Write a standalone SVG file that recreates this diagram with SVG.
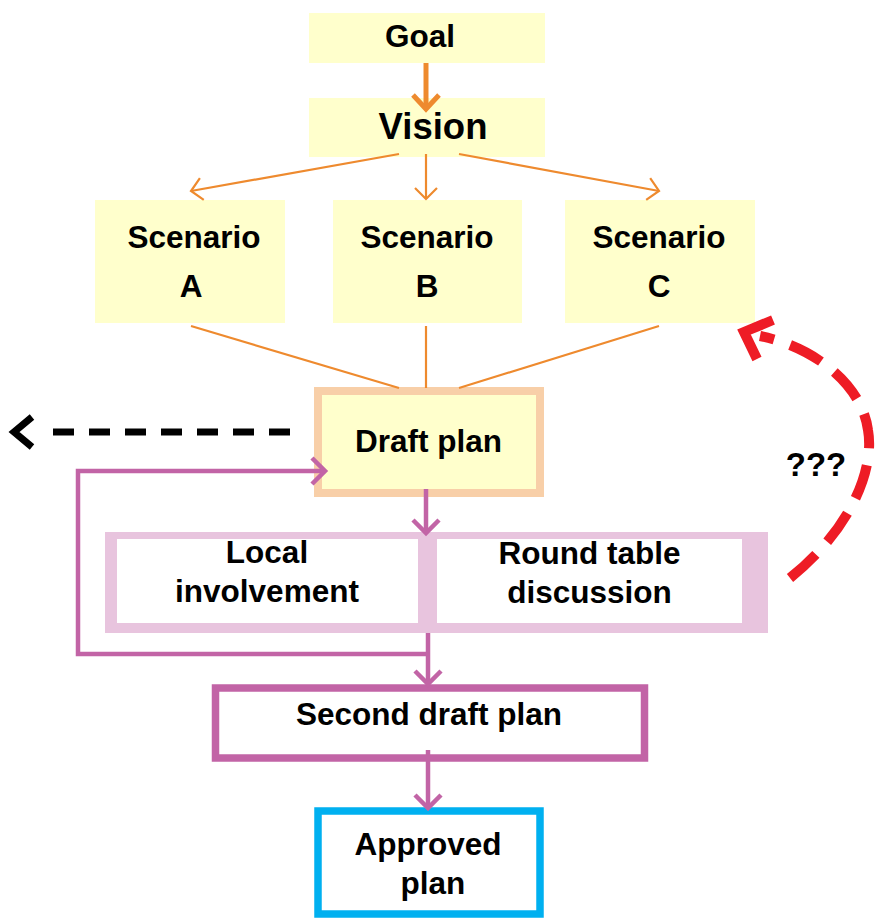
<svg xmlns="http://www.w3.org/2000/svg" width="875" height="919" viewBox="0 0 875 919">
  <style>
    text { font-family: "Liberation Sans", Arial, sans-serif; font-weight: bold; fill: #000; text-anchor: middle; }
    .lbl { font-size: 31.5px; }
    .big { font-size: 36.5px; }
    .q { font-size: 33px; }
    .yellow { fill: #FFFFCC; }
    .orange { stroke: #EE8A2E; fill: none; }
    .purple { stroke: #C264A6; fill: none; stroke-width: 4.5; }
    .chev { fill: none; stroke-linejoin: miter; stroke-linecap: butt; }
  </style>
  <defs>
    <marker id="arrOrange" markerUnits="userSpaceOnUse" viewBox="-20 -20 40 40" refX="0" refY="0" markerWidth="40" markerHeight="40" orient="auto" overflow="visible">
      <path d="M -11,-11 L 0,0 L -11,11" fill="none" stroke="#EE8A2E" stroke-width="2.2"/>
    </marker>
    <marker id="arrOrangeBold" markerUnits="userSpaceOnUse" viewBox="-20 -20 40 40" refX="0" refY="0" markerWidth="40" markerHeight="40" orient="auto" overflow="visible">
      <path d="M -14,-13 L 0,0 L -14,13" fill="none" stroke="#EE8A2E" stroke-width="5"/>
    </marker>
    <marker id="arrPurple" markerUnits="userSpaceOnUse" viewBox="-20 -20 40 40" refX="0" refY="0" markerWidth="40" markerHeight="40" orient="auto" overflow="visible">
      <path d="M -13,-13 L 0,0 L -13,13" fill="none" stroke="#C264A6" stroke-width="4.5"/>
    </marker>
  </defs>

  <rect width="875" height="919" fill="#fff"/>

  <g id="goal">
    <rect class="yellow" x="309" y="13" width="236" height="50"/>
    <text class="lbl" x="420" y="47">Goal</text>
  </g>

  <g id="vision">
    <rect class="yellow" x="309" y="98" width="236" height="59"/>
    <text class="big" x="433" y="139">Vision</text>
  </g>

  <g id="scenario-a">
    <rect class="yellow" x="95" y="200" width="190" height="123"/>
    <text class="lbl" x="194" y="248">Scenario</text>
    <text class="lbl" x="191" y="297">A</text>
  </g>

  <g id="scenario-b">
    <rect class="yellow" x="333" y="200" width="189" height="123"/>
    <text class="lbl" x="427" y="248">Scenario</text>
    <text class="lbl" x="427" y="297">B</text>
  </g>

  <g id="scenario-c">
    <rect class="yellow" x="565" y="200" width="190" height="123"/>
    <text class="lbl" x="659" y="248">Scenario</text>
    <text class="lbl" x="659" y="297">C</text>
  </g>

  <g id="draft-plan">
    <rect class="yellow" x="318" y="391" width="222" height="102" stroke="#F8CFA8" stroke-width="8"/>
    <text class="lbl" x="428.5" y="452">Draft plan</text>
  </g>

  <g id="consultation">
    <rect x="105" y="532" width="663" height="101" fill="#E8C4DE"/>
  </g>

  <g id="local-involvement">
    <rect x="117" y="539" width="301" height="84" fill="#fff"/>
    <text class="lbl" x="267" y="563">Local</text>
    <text class="lbl" x="267" y="602">involvement</text>
  </g>

  <g id="round-table">
    <rect x="437" y="539" width="305" height="84" fill="#fff"/>
    <text class="lbl" x="589.5" y="564">Round table</text>
    <text class="lbl" x="589.5" y="603">discussion</text>
  </g>

  <g id="second-draft-plan">
    <rect x="215.5" y="688" width="429" height="70" fill="#fff" stroke="#C264A6" stroke-width="7.5"/>
    <text class="lbl" x="429" y="725">Second draft plan</text>
  </g>

  <g id="approved-plan">
    <rect x="318" y="811" width="222" height="103" fill="#fff" stroke="#00B0F0" stroke-width="7.5"/>
    <text class="lbl" x="428" y="855">Approved</text>
    <text class="lbl" x="433" y="894">plan</text>
  </g>

  <g id="question-label">
    <text class="q" x="816" y="476">???</text>
  </g>

  <g id="connectors">
    <!-- goal to vision -->
    <line class="orange" x1="426" y1="63" x2="426" y2="109" stroke-width="5" marker-end="url(#arrOrangeBold)"/>
    <!-- vision fans out to scenarios -->
    <line class="orange" x1="399" y1="154" x2="191" y2="191" stroke-width="2.2" marker-end="url(#arrOrange)"/>
    <line class="orange" x1="426" y1="154" x2="426" y2="199" stroke-width="2.2" marker-end="url(#arrOrange)"/>
    <line class="orange" x1="459" y1="154" x2="659" y2="191" stroke-width="2.2" marker-end="url(#arrOrange)"/>
    <!-- scenarios merge into draft plan -->
    <line class="orange" x1="191" y1="326" x2="399" y2="388" stroke-width="2.2"/>
    <line class="orange" x1="426" y1="326" x2="426" y2="388" stroke-width="2.2"/>
    <line class="orange" x1="659" y1="326" x2="459" y2="388" stroke-width="2.2"/>

    <!-- draft plan down to consultation -->
    <line class="purple" x1="426" y1="489" x2="426" y2="533" marker-end="url(#arrPurple)"/>
    <!-- consultation down to second draft -->
    <line class="purple" x1="428" y1="633" x2="428" y2="684" marker-end="url(#arrPurple)"/>
    <!-- feedback loop back to draft plan -->
    <path class="purple" d="M 430,654 H 78 V 471 H 325" marker-end="url(#arrPurple)"/>
    <!-- second draft to approved -->
    <line class="purple" x1="428" y1="750" x2="428" y2="808" marker-end="url(#arrPurple)"/>

    <!-- dashed exit to the left -->
    <line x1="290" y1="432" x2="53" y2="432" stroke="#000" stroke-width="7" stroke-dasharray="21 15"/>
    <polyline class="chev" points="32,417 14,432 32,447" stroke="#000" stroke-width="7"/>

    <!-- dashed return towards scenario C -->
    <path d="M 790,578 C 850,530 875,470 868,430 C 862,385 815,347 760,336" fill="none" stroke="#EE1C25" stroke-width="10" stroke-dasharray="35 17"/>
    <polyline class="chev" points="757,359 744,332 773,320" stroke="#EE1C25" stroke-width="10"/>
  </g>
</svg>
